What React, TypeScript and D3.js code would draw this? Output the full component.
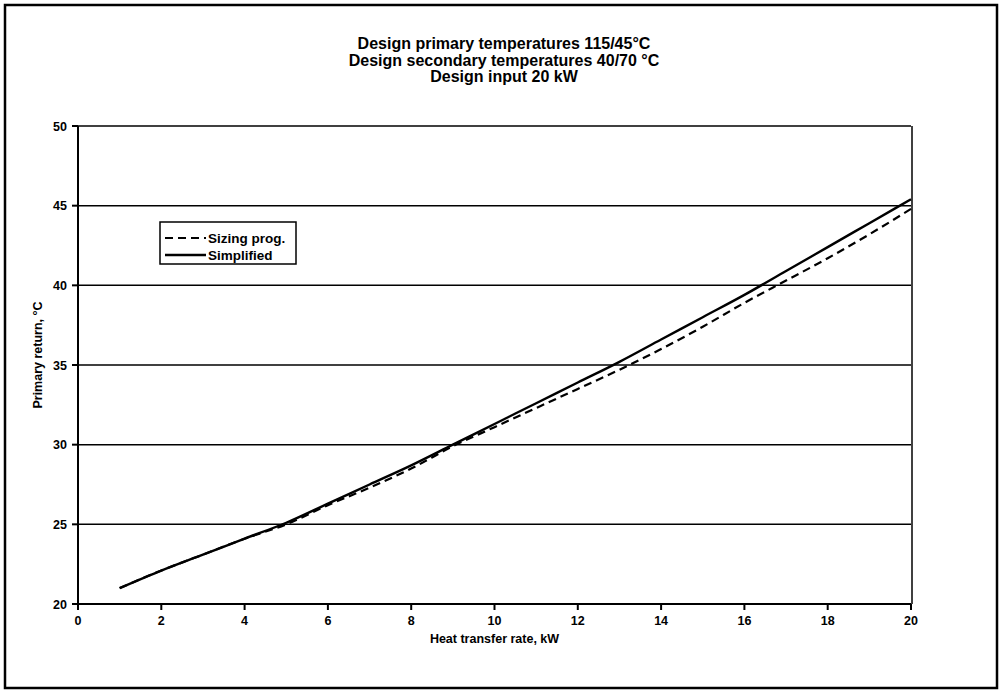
import React from "react";
import * as d3 from "d3";

// Heat transfer rate (kW) at which each curve is sampled
const heatRate = [1, 2, 3, 4, 5, 6, 7, 8, 9, 10, 11, 12, 13, 14, 15, 16, 17, 18, 19, 20];
// Primary return temperature (°C) from the sizing program
const sizingProg = [21.0, 22.1, 23.1, 24.1, 25.0, 26.2, 27.3, 28.5, 29.9, 31.1, 32.3, 33.5, 34.7, 36.0, 37.4, 38.9, 40.3, 41.7, 43.2, 44.8];
// Primary return temperature (°C) from the simplified method
const simplified = [21.0, 22.1, 23.1, 24.1, 25.1, 26.3, 27.5, 28.7, 30.0, 31.3, 32.6, 33.9, 35.2, 36.6, 38.0, 39.4, 40.9, 42.4, 43.9, 45.4];

const xTicks = [0, 2, 4, 6, 8, 10, 12, 14, 16, 18, 20];
const yTicks = [20, 25, 30, 35, 40, 45, 50];

const titleLines = [
  "Design primary temperatures 115/45°C",
  "Design secondary temperatures 40/70 °C",
  "Design input 20 kW",
];
const legendLabels = ["Sizing prog.", "Simplified"];

const W = 1002;
const H = 691;
const plot = { left: 78, right: 911, top: 126, bottom: 604 };
const font = "Arial, 'Liberation Sans', sans-serif";

export default function App() {
  const x = d3.scaleLinear().domain([0, 20]).range([plot.left, plot.right]);
  const y = d3.scaleLinear().domain([20, 50]).range([plot.bottom, plot.top]);

  const line = d3
    .line<number>()
    .x((_, i) => x(heatRate[i]))
    .y((d) => y(d))
    .curve(d3.curveMonotoneX);

  const legendX = 160;
  const legendY = 222;

  return (
    <svg
      width={W}
      height={H}
      viewBox={`0 0 ${W} ${H}`}
      style={{ position: "absolute", left: 0, top: 0, background: "#fff" }}
    >
      <rect x={0} y={0} width={W} height={H} fill="#fff" />
      {/* outer chart frame */}
      <rect x={5} y={5} width={992} height={683} fill="none" stroke="#000" strokeWidth={2.5} />

      {/* title */}
      <g fontFamily={font} fontWeight="bold" fontSize={16} textAnchor="middle" fill="#000">
        {titleLines.map((t, i) => (
          <text key={i} x={504} y={49 + i * 16.5}>
            {t}
          </text>
        ))}
      </g>

      {/* horizontal gridlines */}
      <g stroke="#000" strokeWidth={1.5}>
        {yTicks.map((v) => (
          <line key={v} x1={plot.left} x2={plot.right} y1={y(v)} y2={y(v)} />
        ))}
      </g>

      {/* plot area border on the right */}
      <line x1={plot.right + 1} x2={plot.right + 1} y1={plot.top} y2={plot.bottom} stroke="#000" strokeWidth={1.5} />

      {/* axes */}
      <g stroke="#000" strokeWidth={2}>
        <line x1={plot.left} x2={plot.left} y1={plot.top} y2={plot.bottom} />
        <line x1={plot.left} x2={plot.right} y1={plot.bottom} y2={plot.bottom} />
        {yTicks.map((v) => (
          <line key={v} x1={plot.left - 6} x2={plot.left} y1={y(v)} y2={y(v)} />
        ))}
        {xTicks.map((v) => (
          <line key={v} x1={x(v)} x2={x(v)} y1={plot.bottom} y2={plot.bottom + 6} />
        ))}
      </g>

      {/* tick labels */}
      <g fontFamily={font} fontWeight="bold" fontSize={12.5} fill="#000">
        {yTicks.map((v) => (
          <text key={v} x={plot.left - 11} y={y(v) + 4.5} textAnchor="end">
            {v}
          </text>
        ))}
        {xTicks.map((v) => (
          <text key={v} x={x(v)} y={plot.bottom + 21} textAnchor="middle">
            {v}
          </text>
        ))}
      </g>

      {/* axis titles */}
      <text
        x={(plot.left + plot.right) / 2}
        y={643}
        textAnchor="middle"
        fontFamily={font}
        fontWeight="bold"
        fontSize={12.5}
        fill="#000"
      >
        Heat transfer rate, kW
      </text>
      <text
        transform={`translate(42, 355) rotate(-90)`}
        textAnchor="middle"
        fontFamily={font}
        fontWeight="bold"
        fontSize={12.5}
        fill="#000"
      >
        Primary return, °C
      </text>

      {/* series */}
      <path d={line(sizingProg) ?? ""} fill="none" stroke="#000" strokeWidth={2.2} strokeDasharray="8,5" />
      <path d={line(simplified) ?? ""} fill="none" stroke="#000" strokeWidth={2.4} />

      {/* legend */}
      <g>
        <rect x={legendX} y={legendY} width={136} height={42} fill="#fff" stroke="#000" strokeWidth={1.5} />
        <line x1={legendX + 5} x2={legendX + 46} y1={legendY + 16} y2={legendY + 16} stroke="#000" strokeWidth={2.2} strokeDasharray="8,5" />
        <line x1={legendX + 5} x2={legendX + 46} y1={legendY + 33} y2={legendY + 33} stroke="#000" strokeWidth={2.4} />
        <g fontFamily={font} fontWeight="bold" fontSize={13.5} fill="#000">
          <text x={legendX + 48} y={legendY + 21}>{legendLabels[0]}</text>
          <text x={legendX + 48} y={legendY + 38}>{legendLabels[1]}</text>
        </g>
      </g>
    </svg>
  );
}
